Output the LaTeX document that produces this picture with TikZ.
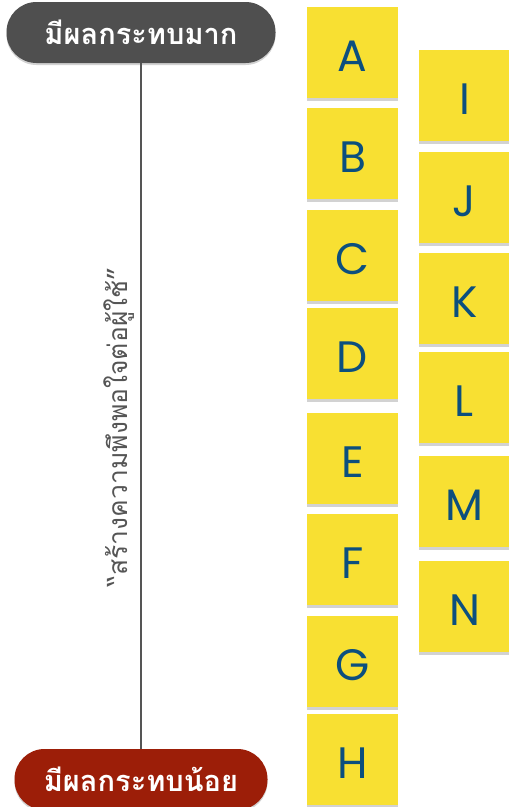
\documentclass[tikz,border=0pt]{standalone}
\usepackage{fontspec}
\setmainfont{Poppins}
\newfontfamily\thaifont[Script=Thai]{Loma}
\usetikzlibrary{shadows}
\definecolor{noteyellow}{HTML}{F8E032}
\definecolor{noteblue}{HTML}{0C4F7E}
\definecolor{pillgray}{HTML}{4F4F4F}
\definecolor{pillred}{HTML}{9C1E08}
\definecolor{linegray}{HTML}{555555}
\tikzset{
  notebox/.style={fill=noteyellow, minimum width=91pt, minimum height=91pt, inner sep=0pt,
    text=noteblue, font=\fontsize{44}{44}\selectfont, text height=38pt, text depth=0pt,
    drop shadow={shadow xshift=0pt, shadow yshift=-3pt, opacity=0.25, fill=black!70}},
  pill/.style={minimum height=61pt, rounded corners=30pt, inner sep=0pt, text=white,
    font=\thaifont\bfseries\fontsize{29}{29}\selectfont,
    drop shadow={shadow xshift=0pt, shadow yshift=-2pt, opacity=0.25, fill=black!70}},
  axis/.style={draw=linegray, line width=2pt}
}
\begin{document}
\begin{tikzpicture}[x=1pt,y=-1pt]
\useasboundingbox (0,0) rectangle (509,807);
\node[pill, fill=pillgray, minimum width=269pt] (top) at (141,32.5) {มีผลกระทบมาก};
\node[pill, fill=pillred, minimum width=253pt] (bot) at (141,779.5) {มีผลกระทบน้อย};
\draw[axis] (top.south) -- (bot.north);
\node[rotate=90, text=linegray, font=\thaifont\fontsize{26.5}{26.5}\selectfont] (label) at (119,427) {“สร้างความพึงพอใจต่อผู้ใช้”};
% left column
\node[notebox] (A) at (352.5,52.5) {A};
\node[notebox] (B) at (352.5,153.5) {B};
\node[notebox] (C) at (352.5,255.5) {C};
\node[notebox] (D) at (352.5,353.5) {D};
\node[notebox] (E) at (352.5,458) {E};
\node[notebox] (F) at (352.5,559.5) {F};
\node[notebox] (G) at (352.5,661.5) {G};
\node[notebox] (H) at (352.5,759.5) {H};
% right column
\node[notebox] (I) at (464.5,95.5) {I};
\node[notebox] (J) at (464.5,197.5) {J};
\node[notebox] (K) at (464.5,298) {K};
\node[notebox] (L) at (464.5,397.5) {L};
\node[notebox] (M) at (464.5,501.5) {M};
\node[notebox] (N) at (464.5,606.5) {N};
\end{tikzpicture}
\end{document}
